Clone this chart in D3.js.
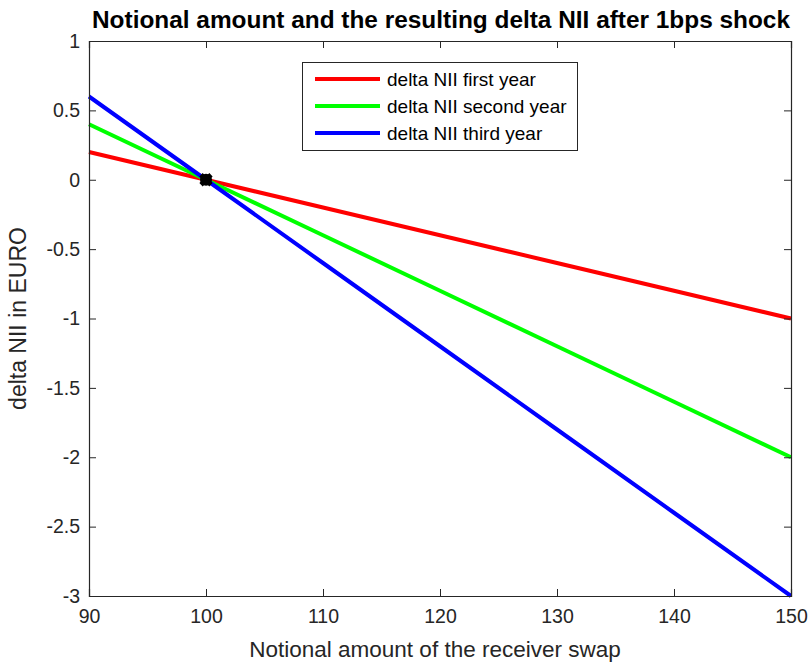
<!DOCTYPE html>
<html><head><meta charset="utf-8">
<script src="https://cdn.jsdelivr.net/npm/d3@7"></script>
<style>body{margin:0;background:#fff}svg{font-family:"Liberation Sans",Arial,sans-serif}</style>
</head><body><svg id="c" width="810" height="664"></svg>
<script>
const notional = [90, 100, 110, 120, 130, 140, 150];
const nii1 = [0.2, 0, -0.2, -0.4, -0.6, -0.8, -1.0];
const nii2 = [0.4, 0, -0.4, -0.8, -1.2, -1.6, -2.0];
const nii3 = [0.6, 0, -0.6, -1.2, -1.8, -2.4, -3.0];
const seriesNames = ["delta NII first year", "delta NII second year", "delta NII third year"];
const seriesColors = ["#ff0000", "#00ff00", "#0000ff"];
const xTicks = [90, 100, 110, 120, 130, 140, 150];
const yTicks = [1, 0.5, 0, -0.5, -1, -1.5, -2, -2.5, -3];
const markerPoint = [100, 0];

const svg = d3.select("#c");
const L = 89, R = 791, T = 41, B = 596;
const x = d3.scaleLinear().domain([90, 150]).range([L, R]);
const y = d3.scaleLinear().domain([-3, 1]).range([B, T]);
const axisCol = "#262626";

// lines
const line = d3.line().x((d, i) => x(notional[i])).y(d => y(d));
[nii1, nii2, nii3].forEach((s, k) => {
  svg.append("path").attr("d", line(s)).attr("fill", "none")
    .attr("stroke", seriesColors[k]).attr("stroke-width", 4);
});

// marker
svg.append("circle").attr("cx", x(markerPoint[0])).attr("cy", y(markerPoint[1])).attr("r", 6).attr("fill", "#000");
svg.append("path").attr("d", d3.symbol().type(d3.symbolCross).size(110)())
  .attr("transform", `translate(${x(markerPoint[0])},${y(markerPoint[1])}) rotate(45)`).attr("fill", "#000");

// axes
const fmt = d => String(d);
const bx = svg.append("g").attr("transform", `translate(0,${B})`)
  .call(d3.axisBottom(x).tickValues(xTicks).tickSize(-7).tickPadding(13).tickFormat(fmt));
const tx = svg.append("g").attr("transform", `translate(0,${T})`)
  .call(d3.axisTop(x).tickValues(xTicks).tickSize(-7).tickFormat(""));
const ly = svg.append("g").attr("transform", `translate(${L},0)`)
  .call(d3.axisLeft(y).tickValues(yTicks).tickSize(-7).tickPadding(9).tickFormat(fmt));
const ry = svg.append("g").attr("transform", `translate(${R},0)`)
  .call(d3.axisRight(y).tickValues(yTicks).tickSize(-7).tickFormat(""));
[bx, tx, ly, ry].forEach(g => {
  g.select(".domain").attr("stroke", axisCol).attr("stroke-width", 1.2);
  g.selectAll(".tick line").attr("stroke", axisCol);
  g.selectAll(".tick text").attr("fill", axisCol).attr("font-size", 19.5).attr("font-family", "Liberation Sans, Arial, sans-serif");
});

// title & labels
svg.append("text").attr("x", 441).attr("y", 28).attr("text-anchor", "middle")
  .attr("font-weight", "bold").attr("font-size", 23.5).attr("fill", "#000")
  .attr("textLength", 698).attr("lengthAdjust", "spacingAndGlyphs")
  .text("Notional amount and the resulting delta NII after 1bps shock");
svg.append("text").attr("x", 435).attr("y", 657).attr("text-anchor", "middle")
  .attr("font-size", 22.5).attr("fill", axisCol).text("Notional amount of the receiver swap");
svg.append("text").attr("transform", `translate(26,${(T + B) / 2}) rotate(-90)`).attr("text-anchor", "middle")
  .attr("font-size", 23).attr("fill", axisCol).text("delta NII in EURO");

// legend
const lg = svg.append("g");
lg.append("rect").attr("x", 302.5).attr("y", 62.5).attr("width", 275).attr("height", 88)
  .attr("fill", "#fff").attr("stroke", axisCol).attr("stroke-width", 1);
seriesNames.forEach((n, k) => {
  const yy = 79 + k * 27;
  lg.append("line").attr("x1", 315).attr("x2", 380).attr("y1", yy).attr("y2", yy)
    .attr("stroke", seriesColors[k]).attr("stroke-width", 4);
  lg.append("text").attr("x", 387).attr("y", yy + 7).attr("font-size", 19).attr("fill", "#000").text(n);
});
</script></body></html>
